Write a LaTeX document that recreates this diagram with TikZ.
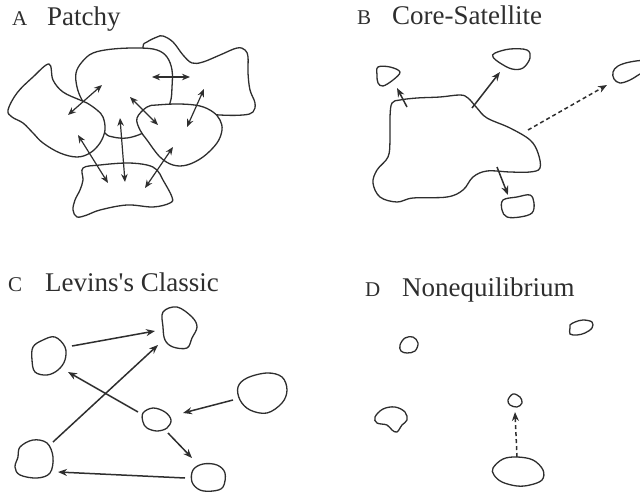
\documentclass[tikz,border=0pt]{standalone}
\usepackage{fontspec}
\setmainfont{Liberation Serif}
\newfontfamily\rawserif{Liberation Serif}
\usetikzlibrary{arrows.meta}
\definecolor{ink}{gray}{0.18}
\tikzset{
  patch/.style={draw=ink, line width=1.3pt, fill=white},
  link/.style={draw=ink, line width=1.5pt, -{Stealth[length=9pt,width=7pt]}},
  dlink/.style={link, dash pattern=on 4pt off 3pt},
  biway/.style={draw=ink, line width=1.2pt, {Stealth[length=8pt,width=6.5pt]}-{Stealth[length=8pt,width=6.5pt]}},
  lbl/.style={anchor=base west, inner sep=0pt, text=ink, font=\fontsize{21}{24}\selectfont},
  ttl/.style={anchor=base west, inner sep=0pt, text=ink, font=\fontsize{27}{30}\selectfont}
}
\begin{document}
\begin{tikzpicture}[x=1pt,y=-1pt]
\useasboundingbox (0,0) rectangle (640,495);
% ---------- labels ----------
\node[lbl] (la) at (12,26) {A};
\node[ttl] (ta) at (47,26) {Patchy};
\node[lbl] (lb) at (357,25) {B};
\node[ttl] (tb) at (392,25) {Core-Satellite};
\node[lbl] (lc) at (8,291) {C};
\node[ttl] (tc) at (45,291) {\rawserif Levins's Classic};
\node[lbl] (ld) at (365,296) {D};
\node[ttl] (td) at (402,296) {Nonequilibrium};

% ---------- A: Patchy ----------
\draw[patch] plot[smooth cycle, tension=0.6] coordinates {(143,47) (147,42) (157,37) (163,36) (173,42) (183,55) (192,63) (203,62) (220,55) (237,48) (245,50) (248,57) (248,73) (250,90) (255,103) (253,112) (243,115) (220,115) (190,112) (160,100) (145,70)};
\draw[patch] plot[smooth cycle, tension=0.6] coordinates {(82,100) (77,87) (76,73) (82,62) (93,53) (113,49) (140,48) (157,50) (167,57) (172,70) (172,87) (170,103) (160,122) (143,133) (127,138) (113,137) (105,133) (92,115)};
\draw[patch] plot[smooth cycle, tension=0.6] coordinates {(49,64) (33,77) (17,93) (8,110) (12,117) (23,123) (33,133) (43,143) (60,153) (77,157) (90,153) (100,143) (105,130) (103,117) (97,110) (87,103) (80,100) (63,92) (53,80)};
\draw[patch] plot[smooth cycle, tension=0.6] coordinates {(147,107) (157,105) (180,104) (200,106) (213,112) (220,120) (222,130) (217,143) (203,157) (187,165) (173,165) (160,157) (147,140) (140,130) (137,118)};
\draw[patch] plot[smooth cycle, tension=0.6] coordinates {(83,168) (100,165) (127,163) (147,165) (157,170) (163,180) (172,197) (170,203) (153,207) (127,205) (100,210) (87,215) (77,217) (73,210) (75,200) (80,190) (83,180)};

\coordinate (a1s) at (102,85);  \coordinate (a1e) at (68,115);
\coordinate (a2s) at (152,77);  \coordinate (a2e) at (190,77);
\coordinate (a3s) at (130,97);  \coordinate (a3e) at (158,125);
\coordinate (a4s) at (204,89);  \coordinate (a4e) at (187,127);
\coordinate (a5s) at (120,118); \coordinate (a5e) at (125,182);
\coordinate (a6s) at (78,135);  \coordinate (a6e) at (108,183);
\coordinate (a7s) at (173,147); \coordinate (a7e) at (145,188);
\foreach \i in {1,...,7} {\draw[biway] (a\i s) -- (a\i e);}

% ---------- B: Core-Satellite ----------
\draw[patch] plot[smooth cycle, tension=0.6] coordinates {(392,103) (400,100) (417,98) (440,97) (460,95) (468,98) (477,108) (487,118) (510,128) (530,140) (538,153) (540,168) (530,172) (510,172) (487,171) (473,177) (463,190) (447,197) (413,198) (397,202) (380,197) (373,183) (377,170) (388,157) (390,140) (390,117)};
\draw[patch] plot[smooth cycle, tension=0.6] coordinates {(378,67) (390,67) (400,72) (393,80) (383,86) (378,83) (377,75)};
\draw[patch] plot[smooth cycle, tension=0.6] coordinates {(495,53) (510,49) (527,50) (530,58) (523,68) (512,69) (500,63) (493,57)};
\draw[patch] plot[smooth cycle, tension=0.6] coordinates {(613,72) (618,66) (630,62) (645,61) (648,70) (640,74) (630,80) (620,83) (614,79)};
\draw[patch] plot[smooth cycle, tension=0.6] coordinates {(503,200) (517,197) (530,195) (534,203) (532,213) (520,217) (507,217) (502,210)};

\coordinate (b1s) at (407,107); \coordinate (b1e) at (397,88);
\coordinate (b2s) at (472,108); \coordinate (b2e) at (500,72);
\coordinate (b3s) at (528,130); \coordinate (b3e) at (607,85);
\coordinate (b4s) at (497,167); \coordinate (b4e) at (508,195);
\draw[link] (b1s) -- (b1e);
\draw[link] (b2s) -- (b2e);
\draw[dlink] (b3s) -- (b3e);
\draw[link] (b4s) -- (b4e);

% ---------- C: Levins's Classic ----------
\draw[patch] plot[smooth cycle, tension=0.6] coordinates {(33,347) (43,340) (55,337) (65,347) (65,360) (58,370) (47,375) (35,372) (32,360)};
\draw[patch] plot[smooth cycle, tension=0.6] coordinates {(163,312) (177,307) (192,317) (197,327) (192,338) (187,348) (173,347) (165,340) (163,327)};
\draw[patch] plot[smooth cycle, tension=0.6] coordinates {(238,387) (247,378) (267,373) (282,377) (287,390) (282,403) (267,413) (250,410) (240,400)};
\draw[patch] plot[smooth cycle, tension=0.6] coordinates {(143,413) (153,408) (165,412) (171,420) (167,428) (157,431) (147,428) (143,422)};
\draw[patch] plot[smooth cycle, tension=0.6] coordinates {(20,447) (33,440) (47,443) (53,457) (50,473) (37,478) (20,475) (15,467) (18,457)};
\draw[patch] plot[smooth cycle, tension=0.6] coordinates {(193,470) (203,464) (217,465) (225,473) (223,487) (213,491) (200,490) (192,482)};

\coordinate (c1s) at (72,346);  \coordinate (c1e) at (155,331);
\coordinate (c2s) at (53,442);  \coordinate (c2e) at (158,345);
\coordinate (c3s) at (138,412); \coordinate (c3e) at (68,372);
\coordinate (c4s) at (233,400); \coordinate (c4e) at (183,413);
\coordinate (c5s) at (168,433); \coordinate (c5e) at (192,458);
\coordinate (c6s) at (185,478); \coordinate (c6e) at (58,472);
\foreach \i in {1,...,6} {\draw[link] (c\i s) -- (c\i e);}

% ---------- D: Nonequilibrium ----------
\draw[patch] plot[smooth cycle, tension=0.6] coordinates {(400,345) (405,338) (413,337) (418,343) (415,351) (407,353) (401,351)};
\draw[patch] plot[smooth cycle, tension=0.6] coordinates {(570,325) (575,322) (583,320) (592,322) (592,328) (585,333) (577,335) (570,334) (570,328)};
\draw[patch] plot[smooth cycle, tension=0.6] coordinates {(375,417) (383,409) (395,407) (405,412) (407,420) (402,425) (397,432) (392,430) (387,425) (377,423)};
\draw[patch] plot[smooth cycle, tension=0.6] coordinates {(508,400) (513,394) (520,397) (522,403) (517,407) (510,405)};
\draw[patch] plot[smooth cycle, tension=0.6] coordinates {(493,468) (503,459) (517,457) (533,460) (543,470) (542,480) (530,485) (517,486) (502,482) (494,475)};

\coordinate (d1s) at (517,457); \coordinate (d1e) at (515,412);
\draw[dlink] (d1s) -- (d1e);
\end{tikzpicture}
\end{document}
